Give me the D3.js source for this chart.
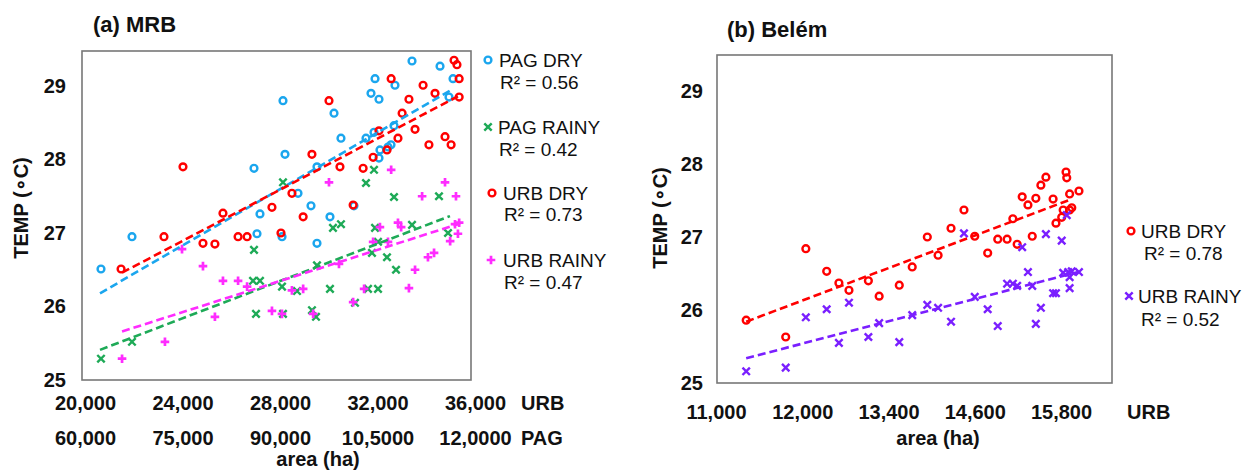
<!DOCTYPE html>
<html>
<head>
<meta charset="utf-8">
<script src="https://cdn.jsdelivr.net/npm/d3@7"></script>
<style>
  body { margin: 0; background: #fff; }
  text { font-family: "Liberation Sans", Arial, sans-serif; fill: #111; }
</style>
</head>
<body>
<svg id="chart" width="1247" height="470"></svg>
<script>
// ---- data: [area (ha), temperature (°C)] ----
const tempTicks = [25, 26, 27, 28, 29];

// (a) MRB
const urbTicksA = [20000, 24000, 28000, 32000, 36000];
const urbTickLabelsA = ["20,000", "24,000", "28,000", "32,000", "36,000"];
const pagTicksA = [60000, 75000, 90000, 105000, 120000];
const pagTickLabelsA = ["60,000", "75,000", "90,000", "10,5000", "12,0000"];

const mrbPagDry = [
  [62460, 26.51], [67230, 26.95], [86000, 27.88], [86460, 26.99], [86920, 27.26],
  [90310, 26.95], [90460, 28.80], [90770, 28.07], [92770, 27.54], [94770, 27.37],
  [95690, 27.90], [95690, 26.86], [97690, 27.22], [98310, 28.63], [99380, 28.29],
  [101380, 27.37], [103230, 28.29], [104000, 28.90], [104460, 28.37], [104620, 29.10],
  [105230, 28.82], [105380, 28.13], [105230, 28.02], [106620, 28.17], [107080, 28.20],
  [107540, 28.46], [107690, 29.01], [110310, 29.34], [114620, 29.27], [116000, 28.85],
  [116620, 29.10]
];
const mrbPagRainy = [
  [62460, 25.29], [67230, 25.52], [86000, 26.77], [85850, 26.35], [86920, 26.35],
  [86310, 25.90], [90310, 26.27], [90460, 27.69], [90460, 25.90], [92620, 26.21],
  [94920, 25.95], [95540, 25.86], [95690, 26.56], [97690, 26.24], [98150, 27.07],
  [99380, 27.12], [101540, 26.05], [103230, 27.68], [103540, 26.24], [104150, 26.73],
  [104460, 27.86], [104620, 27.07], [105080, 26.88], [105080, 26.24], [106460, 26.67],
  [107540, 27.49], [107850, 26.50], [110310, 27.11], [114460, 27.50], [115850, 27.00]
];
const mrbUrbDry = [
  [21480, 26.51], [23240, 26.95], [24020, 27.90], [24840, 26.86], [25330, 26.85],
  [25660, 27.27], [26280, 26.95], [26650, 26.95], [27670, 27.35], [28040, 27.00],
  [28490, 27.54], [28950, 27.22], [29310, 28.07], [30010, 28.80], [30460, 27.90],
  [31000, 27.38], [31410, 27.88], [31820, 28.03], [32060, 28.39], [32390, 28.13],
  [32560, 29.10], [32840, 28.29], [33010, 28.63], [33290, 28.82], [33540, 28.41],
  [33870, 29.01], [34110, 28.20], [34360, 28.90], [34770, 28.31], [35020, 28.20],
  [35140, 29.35], [35260, 29.29], [35350, 29.10], [35350, 28.85]
];
const mrbUrbRainy = [
  [21520, 25.29], [23280, 25.52], [23980, 26.78], [24840, 26.55], [25330, 25.86],
  [25660, 26.35], [26280, 26.35], [26650, 26.27], [27670, 25.94], [28080, 25.90],
  [28490, 26.22], [28950, 26.24], [29360, 25.90], [30010, 27.69], [30420, 26.58],
  [31000, 26.06], [31450, 26.24], [31820, 26.88], [32100, 27.08], [32430, 26.88],
  [32560, 27.86], [32840, 27.14], [32970, 27.08], [33290, 26.25], [33540, 26.50],
  [33830, 27.50], [34070, 26.67], [34320, 26.73], [34770, 27.69], [34980, 26.89],
  [35180, 27.12], [35220, 27.50], [35300, 26.99], [35350, 27.14]
];
// trendline end points
const mrbPagDryTrend = [[62310, 26.18], [116620, 28.96]];
const mrbPagRainyTrend = [[62310, 25.41], [116150, 27.23]];
const mrbUrbDryTrend = [[21520, 26.46], [35300, 28.86]];
const mrbUrbRainyTrend = [[21520, 25.66], [35390, 27.13]];

// (b) Belém
const urbTicksB = [11000, 12200, 13400, 14600, 15800];
const urbTickLabelsB = ["11,000", "12,000", "13,400", "14,600", "15,800"];

const belUrbDry = [
  [11420, 25.86], [11970, 25.63], [12250, 26.84], [12540, 26.53], [12710, 26.37],
  [12850, 26.27], [13120, 26.40], [13270, 26.19], [13550, 26.34], [13730, 26.59],
  [13940, 27.00], [14090, 26.75], [14270, 27.12], [14450, 27.37], [14600, 27.01],
  [14780, 26.78], [14920, 26.97], [15050, 26.97], [15130, 27.25], [15190, 26.90],
  [15260, 27.55], [15340, 27.44], [15400, 27.01], [15450, 27.53], [15520, 27.71],
  [15590, 27.82], [15690, 27.52], [15730, 27.19], [15810, 27.27], [15830, 27.37],
  [15870, 27.89], [15880, 27.81], [15920, 27.37], [15920, 27.59], [15950, 27.40],
  [16050, 27.63]
];
const belUrbRainy = [
  [11420, 25.16], [11970, 25.21], [12250, 25.90], [12540, 26.01], [12710, 25.55],
  [12850, 26.10], [13120, 25.63], [13270, 25.82], [13550, 25.56], [13730, 25.93],
  [13940, 26.07], [14090, 26.03], [14270, 25.84], [14450, 27.05], [14600, 26.18],
  [14780, 26.01], [14920, 25.78], [15050, 26.36], [15130, 26.36], [15190, 26.33],
  [15260, 26.86], [15340, 26.52], [15400, 26.33], [15450, 25.81], [15520, 26.03],
  [15590, 27.04], [15690, 26.23], [15730, 26.23], [15810, 26.95], [15830, 26.51],
  [15880, 27.30], [15900, 26.52], [15920, 26.45], [15920, 26.30], [15950, 26.53],
  [16050, 26.52]
];
const belUrbDryTrend = [[11420, 25.84], [15950, 27.52]];
const belUrbRainyTrend = [[11420, 25.34], [16040, 26.52]];

// ---- drawing ----
const svg = d3.select("#chart");
const col = { blue: "#1ba6ee", red: "#ff0000", green: "#1eaa57", magenta: "#ff2cff", purple: "#7a1fff" };

function marker(g, type, color, x, y) {
  if (type === "circle") {
    g.append("circle").attr("cx", x).attr("cy", y).attr("r", 3.4)
      .attr("fill", "none").attr("stroke", color).attr("stroke-width", 2.4);
  } else if (type === "x") {
    const s = 3.7;
    g.append("path").attr("d", `M${x - s},${y - s}L${x + s},${y + s}M${x - s},${y + s}L${x + s},${y - s}`)
      .attr("stroke", color).attr("stroke-width", 2.4).attr("fill", "none");
  } else {
    const s = 4.3;
    g.append("path").attr("d", `M${x - s},${y}L${x + s},${y}M${x},${y - s}L${x},${y + s}`)
      .attr("stroke", color).attr("stroke-width", 2.7).attr("fill", "none");
  }
}

function series(data, x, y, type, color) {
  const g = svg.append("g");
  data.forEach(d => marker(g, type, color, x(d[0]), y(d[1])));
}

function trend(data, x, y, color) {
  svg.append("path")
    .attr("d", d3.line().x(d => x(d[0])).y(d => y(d[1]))(data))
    .attr("fill", "none").attr("stroke", color)
    .attr("stroke-width", 2.6).attr("stroke-dasharray", "8,4");
}

function styleTicks(g) {
  g.select(".domain").remove();
  g.selectAll("text").attr("font-size", 20).attr("font-weight", "bold")
    .attr("font-family", '"Liberation Sans", Arial, sans-serif').attr("fill", "#111");
}

function leftAxis(y, xPos) {
  const g = svg.append("g").attr("transform", `translate(${xPos},0)`)
    .call(d3.axisLeft(y).tickValues(tempTicks).tickFormat(d3.format("d")).tickSize(0).tickPadding(0));
  styleTicks(g);
}

function bottomAxis(x, ticks, labels, yPos) {
  const g = svg.append("g").attr("transform", `translate(0,${yPos})`)
    .call(d3.axisBottom(x).tickValues(ticks).tickFormat((d, i) => labels[i]).tickSize(0).tickPadding(0));
  styleTicks(g);
}

function label(txt, x, y, opts = {}) {
  const t = svg.append("text").attr("x", x).attr("y", y).text(txt)
    .attr("font-size", opts.size || 20)
    .attr("font-weight", opts.bold === false ? "normal" : "bold")
    .attr("text-anchor", opts.anchor || "start");
  if (opts.rotate) t.attr("transform", `rotate(-90,${x},${y})`);
  return t;
}

// ---------- panel (a) ----------
const xUrbA = d3.scaleLinear().domain([20000, 36000]).range([85, 475]);
const xPagA = d3.scaleLinear().domain([60000, 120000]).range([85, 475]);
const yA = d3.scaleLinear().domain([25, 29]).range([380, 86]);

svg.append("rect").attr("x", 82).attr("y", 51).attr("width", 389).attr("height", 329)
  .attr("fill", "none").attr("stroke", "#777").attr("stroke-width", 1.6);

series(mrbPagDry, xPagA, yA, "circle", col.blue);
series(mrbPagRainy, xPagA, yA, "x", col.green);
series(mrbUrbDry, xUrbA, yA, "circle", col.red);
series(mrbUrbRainy, xUrbA, yA, "plus", col.magenta);
trend(mrbPagDryTrend, xPagA, yA, col.blue);
trend(mrbUrbDryTrend, xUrbA, yA, col.red);
trend(mrbPagRainyTrend, xPagA, yA, col.green);
trend(mrbUrbRainyTrend, xUrbA, yA, col.magenta);

leftAxis(yA, 66);
bottomAxis(xUrbA, urbTicksA, urbTickLabelsA, 396);
bottomAxis(xPagA, pagTicksA, pagTickLabelsA, 431);
label("URB", 521, 410);
label("PAG", 521, 445);
label("area (ha)", 318, 466, { anchor: "middle" });
label("TEMP (∘C)", 28, 208, { anchor: "middle", rotate: true });
label("(a) MRB", 93, 32, { size: 22 });

const legA = svg.append("g");
[
  ["circle", col.blue, "PAG DRY", "R² = 0.56", 488, 499, 60, 82],
  ["x", col.green, "PAG RAINY", "R² = 0.42", 488, 498, 127, 149],
  ["circle", col.red, "URB DRY", "R² = 0.73", 492, 503, 193, 214],
  ["plus", col.magenta, "URB RAINY", "R² = 0.47", 491, 503, 260, 282]
].forEach(r => {
  marker(legA, r[0], r[1], r[4], r[6]);
  label(r[2], r[5], r[6] + 7, { size: 19, bold: false });
  label(r[3], r[5] + 1, r[7] + 7, { size: 19, bold: false });
});

// ---------- panel (b) ----------
const xB = d3.scaleLinear().domain([11000, 15800]).range([716, 1061]);
const yB = d3.scaleLinear().domain([25, 29]).range([383, 91]);

svg.append("rect").attr("x", 717).attr("y", 55).attr("width", 395).attr("height", 328)
  .attr("fill", "none").attr("stroke", "#777").attr("stroke-width", 1.6);

series(belUrbDry, xB, yB, "circle", col.red);
series(belUrbRainy, xB, yB, "x", col.purple);
trend(belUrbDryTrend, xB, yB, col.red);
trend(belUrbRainyTrend, xB, yB, col.purple);

leftAxis(yB, 703);
bottomAxis(xB, urbTicksB, urbTickLabelsB, 405);
label("URB", 1127, 419);
label("area (ha)", 938, 445, { anchor: "middle" });
label("TEMP (∘C)", 667, 218, { anchor: "middle", rotate: true });
label("(b) Belém", 727, 37, { size: 22 });

const legB = svg.append("g");
[
  ["circle", col.red, "URB DRY", "R² = 0.78", 1131, 1141, 231, 253],
  ["x", col.purple, "URB RAINY", "R² = 0.52", 1129, 1138, 296, 319]
].forEach(r => {
  marker(legB, r[0], r[1], r[4], r[6]);
  label(r[2], r[5], r[6] + 7, { size: 19, bold: false });
  label(r[3], r[5] + 3, r[7] + 7, { size: 19, bold: false });
});
</script>
</body>
</html>
